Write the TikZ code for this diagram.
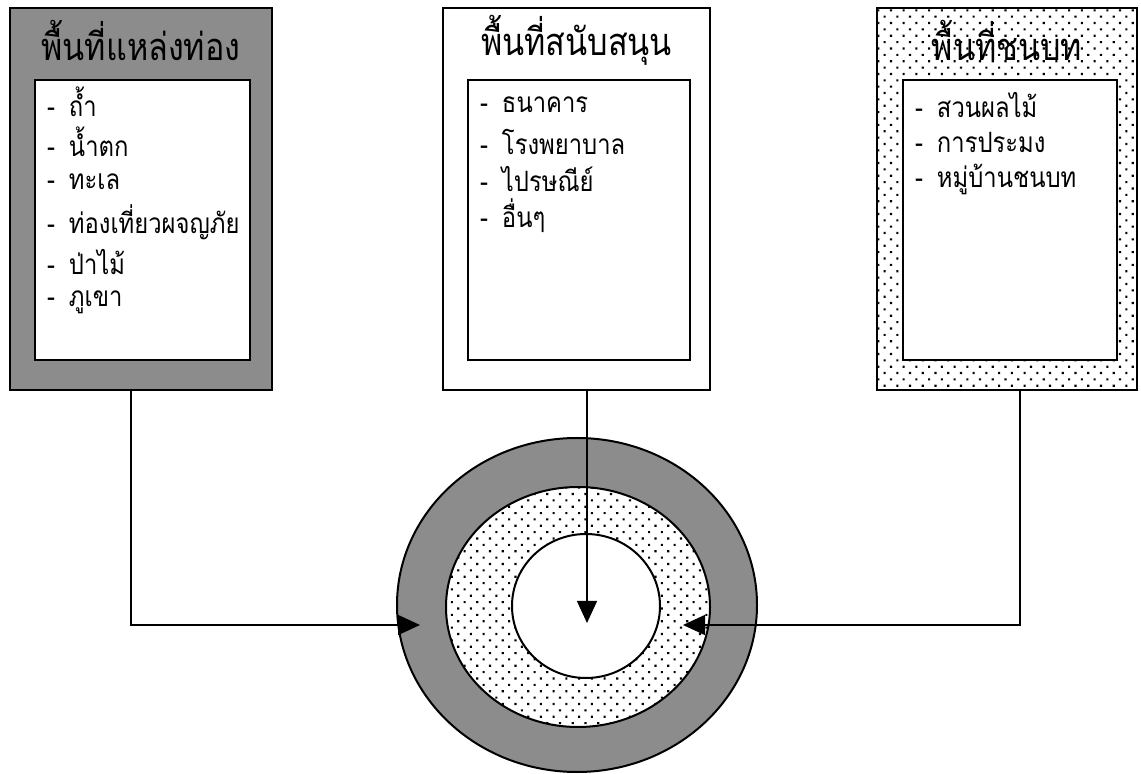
\documentclass[tikz,border=0pt]{standalone}
\usepackage{fontspec}
\newfontfamily\thaifont[Script=Thai, FakeStretch=0.85]{Loma}
\usepackage{tikz}
\usetikzlibrary{arrows.meta,patterns.meta}

\begin{document}
\begin{tikzpicture}[x=0.5pt, y=-0.5pt,
  every node/.style={font=\thaifont},
  zone/.style={draw, line width=1.2pt, inner sep=0pt, minimum height=191pt},
  list/.style={draw, line width=1.2pt, fill=white, inner sep=0pt, minimum height=140pt},
  stone/.style={fill=black!45},
  dotty/.style={preaction={fill=white}, pattern={Dots[distance=4.5pt, angle=45, radius=0.75pt]}},
  title/.style={font=\thaifont\fontsize{19}{21}\selectfont},
  item/.style={anchor=west, font=\thaifont\fontsize{14}{16}\selectfont},
  link/.style={line width=0.7pt, -{Triangle[length=11pt, width=10pt]}},
]
\useasboundingbox (0,0) rectangle (1141,774);

\node[zone, stone, minimum width=131pt] (attract) at (141,199) {};
\node[list, minimum width=107.5pt] (attractL) at (142.5,220) {};
\node[title] (attractT) at (141,40) {พื้นที่แหล่งท่อง};
\foreach \t [count=\i] in {ถ้ำ, น้ำตก, ทะเล, ท่องเที่ยวผจญภัย, ป่าไม้, ภูเขา}
  \node[item] (a\i) at (40,62+40*\i) {-\hspace{7pt}\t};

\node[zone, minimum width=133.5pt] (support) at (576.5,199) {};
\node[list, minimum width=111pt] (supportL) at (579,220) {};
\node[title] (supportT) at (576.5,40) {พื้นที่สนับสนุน};
\foreach \t [count=\i] in {ธนาคาร, โรงพยาบาล, ไปรษณีย์, อื่นๆ}
  \node[item] (s\i) at (473,68+37*\i) {-\hspace{7pt}\t};

\node[zone, dotty, minimum width=130pt] (rural) at (1007,199) {};
\node[list, minimum width=107pt] (ruralL) at (1010,220) {};
\node[title] (ruralT) at (1007,40) {พื้นที่ชนบท};
\foreach \t [count=\i] in {สวนผลไม้, การประมง, หมู่บ้านชนบท}
  \node[item] (r\i) at (908,68+37*\i) {-\hspace{7pt}\t};

\draw[line width=1pt, stone] (577,605) ellipse [x radius=90pt, y radius=83.5pt];
\draw[line width=1pt, dotty] (578,607) ellipse [x radius=66pt, y radius=60pt];
\draw[line width=1pt, fill=white] (586,606) ellipse [x radius=37pt, y radius=36pt];

\coordinate (tipL) at (420,625);
\coordinate (tipC) at (587,623);
\coordinate (tipR) at (683,625);
\draw[link] ([xshift=-5pt]attract.south) |- (tipL);
\draw[link] ([xshift=5.25pt]support.south) -- (tipC);
\draw[link] ([xshift=6.5pt]rural.south) |- (tipR);
\end{tikzpicture}
\end{document}
